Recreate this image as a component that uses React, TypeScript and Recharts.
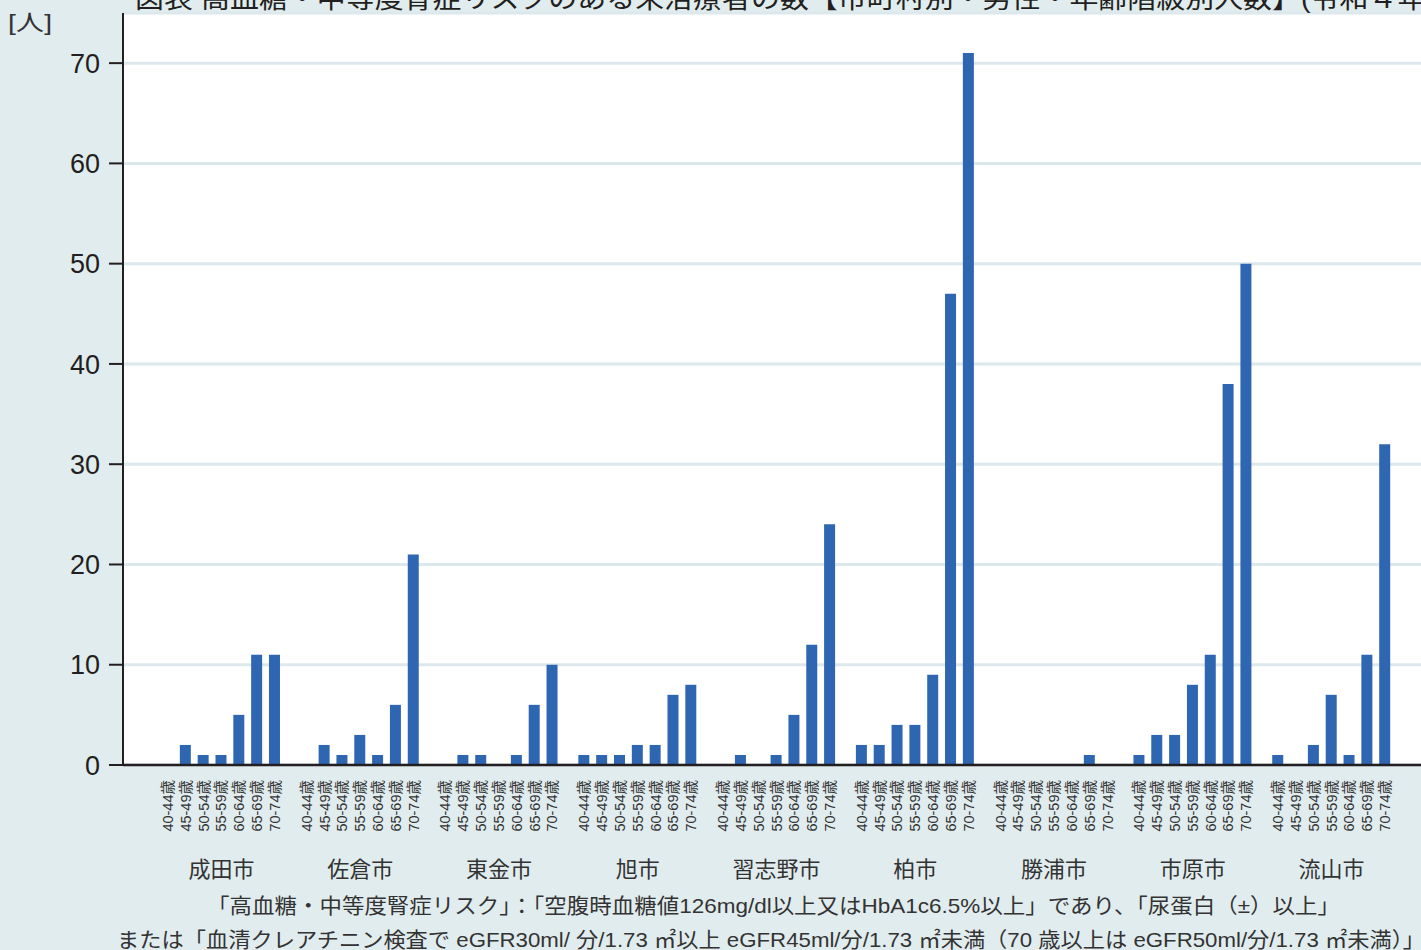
import { Bar, BarChart, CartesianGrid, XAxis, YAxis } from 'recharts'

const cities = ['成田市', '佐倉市', '東金市', '旭市', '習志野市', '柏市', '勝浦市', '市原市', '流山市']
const ageGroups = ['40-44歳', '45-49歳', '50-54歳', '55-59歳', '60-64歳', '65-69歳', '70-74歳']

// people per age group, same order as ageGroups
const narita = [0, 2, 1, 1, 5, 11, 11]
const sakura = [0, 2, 1, 3, 1, 6, 21]
const togane = [0, 1, 1, 0, 1, 6, 10]
const asahi = [1, 1, 1, 2, 2, 7, 8]
const narashino = [0, 1, 0, 1, 5, 12, 24]
const kashiwa = [2, 2, 4, 4, 9, 47, 71]
const katsuura = [0, 0, 0, 0, 0, 1, 0]
const ichihara = [1, 3, 3, 8, 11, 38, 50]
const nagareyama = [1, 0, 2, 7, 1, 11, 32]

const yTicks = [0, 10, 20, 30, 40, 50, 60, 70]

const cityCounts = [narita, sakura, togane, asahi, narashino, kashiwa, katsuura, ichihara, nagareyama]

const chartData = cities.map((city, ci) => {
  const row: Record<string, string | number> = { city }
  ageGroups.forEach((_, ai) => {
    row[`a${ai}`] = cityCounts[ci][ai]
  })
  return row
})

const pageBg = '#e1ecee'
const gridColor = '#dce8eb'
const barColor = '#2f66b2'
const inkColor = '#231f20'
const fontFamily = "'Liberation Sans', 'Noto Sans CJK JP', sans-serif"

const barSize = 11
const barGap = 6.83
const barStep = barSize + barGap

function CityTick({ x, y, payload }: { x: number; y: number; payload: { value: string } }) {
  return (
    <g>
      {ageGroups.map((age, i) => {
        const cx = x + (i - (ageGroups.length - 1) / 2) * barStep
        return (
          <text
            key={age}
            x={cx}
            y={y + 15}
            transform={`rotate(-90, ${cx}, ${y + 15})`}
            textAnchor="end"
            dominantBaseline="central"
            fontSize={14.5}
            fill="#333"
            fontFamily={fontFamily}
          >
            {age}
          </text>
        )
      })}
      <text
        x={x}
        y={y + 104}
        textAnchor="middle"
        dominantBaseline="central"
        fontSize={22}
        fill="#333"
        fontFamily={fontFamily}
      >
        {payload.value}
      </text>
    </g>
  )
}

export default function App() {
  return (
    <div
      style={{
        position: 'fixed',
        left: 0,
        top: 0,
        width: 1421,
        height: 950,
        overflow: 'hidden',
        background: pageBg,
      }}
    >
      <BarChart
        width={1440}
        height={950}
        data={chartData}
        margin={{ top: 13, right: 10, left: 0, bottom: 0 }}
        barSize={barSize}
        barGap={barGap}
      >
        <CartesianGrid vertical={false} stroke={gridColor} strokeWidth={3} fill="#ffffff" fillOpacity={1} />
        <XAxis
          dataKey="city"
          height={185}
          padding={{ left: 29, right: 29 }}
          tickLine={false}
          tickSize={0}
          tickMargin={0}
          axisLine={{ stroke: inkColor, strokeWidth: 2.5 }}
          tick={CityTick}
          interval={0}
        />
        <YAxis
          width={123}
          domain={[0, 75]}
          ticks={yTicks}
          tickSize={14}
          tickMargin={9}
          axisLine={{ stroke: inkColor, strokeWidth: 2 }}
          tickLine={{ stroke: inkColor, strokeWidth: 2 }}
          tick={{ fontSize: 27, fill: inkColor, fontFamily }}
        />
        {ageGroups.map((age, i) => (
          <Bar key={age} dataKey={`a${i}`} name={age} fill={barColor} isAnimationActive={false} />
        ))}
      </BarChart>
      <svg
        width={1421}
        height={950}
        style={{ position: 'absolute', left: 0, top: 0, pointerEvents: 'none' }}
        fontFamily={fontFamily}
      >
        <text x={135} y={8} fontSize={26} fill={inkColor} textLength={1330} lengthAdjust="spacingAndGlyphs">
          図表 高血糖・中等度腎症リスクのある未治療者の数【市町村別・男性・年齢階級別人数】(令和４年度)
        </text>
        <text
          x={8}
          y={22}
          fontSize={22}
          fill="#333"
          dominantBaseline="central"
          textLength={44}
          lengthAdjust="spacingAndGlyphs"
        >
          [人]
        </text>
        <text
          x={207}
          y={905}
          fontSize={21}
          fill="#333"
          dominantBaseline="central"
          textLength={1133}
          lengthAdjust="spacingAndGlyphs"
        >
          「高血糖・中等度腎症リスク」：「空腹時血糖値126mg/dl以上又はHbA1c6.5%以上」であり、「尿蛋白（±）以上」
        </text>
        <text
          x={117}
          y={939}
          fontSize={21}
          fill="#333"
          dominantBaseline="central"
          textLength={1308}
          lengthAdjust="spacingAndGlyphs"
        >
          または「血清クレアチニン検査で eGFR30ml/ 分/1.73 ㎡以上 eGFR45ml/分/1.73 ㎡未満（70 歳以上は eGFR50ml/分/1.73 ㎡未満）」
        </text>
      </svg>
    </div>
  )
}
